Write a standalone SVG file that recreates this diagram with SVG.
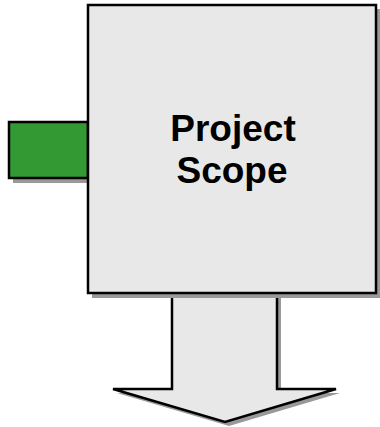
<svg xmlns="http://www.w3.org/2000/svg" width="380" height="427" viewBox="0 0 380 427">
  <style>
    .shadow { fill: #999999; stroke: none; }
    .box { fill: #e8e8e8; stroke: #000000; stroke-width: 2.5; }
    .tab { fill: #339933; stroke: #000000; stroke-width: 2.5; }
    .label { font-family: "Liberation Sans", Arial, sans-serif; font-weight: bold; font-size: 37px; fill: #000000; text-anchor: middle; }
  </style>
  <rect width="380" height="427" fill="#ffffff"/>

  <!-- Green input tab on the left -->
  <g id="input-tab">
    <rect class="shadow" x="13" y="126" width="79" height="57"/>
    <rect class="tab" x="9" y="122" width="79" height="56"/>
  </g>

  <!-- Outgoing block arrow -->
  <g id="output-arrow">
    <polygon class="shadow" points="176,296 281,296 281,393 340,393 229,426 117,393 176,393"/>
    <polygon class="box" points="172,292 277,292 277,389 336,389 225,422 113,389 172,389"/>
  </g>

  <!-- Main scope box -->
  <g id="project-scope">
    <rect class="shadow" x="92" y="9" width="288" height="289"/>
    <rect class="box" x="88" y="5" width="288" height="288"/>
    <text class="label" x="233" y="141">Project</text>
    <text class="label" x="232" y="183">Scope</text>
  </g>
</svg>
